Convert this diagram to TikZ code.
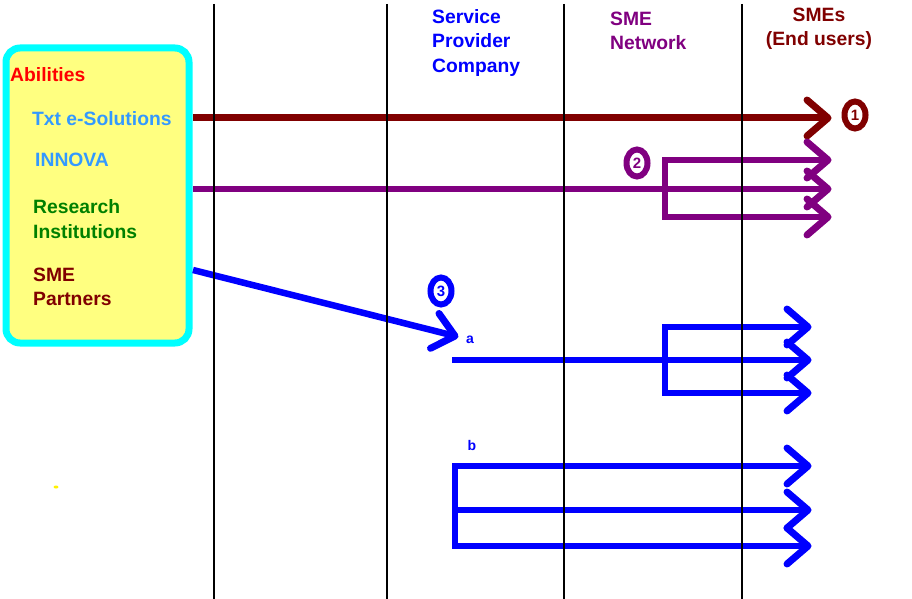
\documentclass[tikz,border=0pt]{standalone}
\usepackage{fontspec}
\setmainfont{Liberation Sans}
\usetikzlibrary{shapes.geometric}
\definecolor{dred}{RGB}{128,0,0}
\definecolor{purp}{RGB}{128,0,128}
\definecolor{bblue}{RGB}{0,0,255}
\definecolor{lblue}{RGB}{51,153,255}
\definecolor{dgreen}{RGB}{0,128,0}
\definecolor{lyellow}{RGB}{255,255,128}
\definecolor{cyanb}{RGB}{0,255,255}
\tikzset{
  flow/.style={line width=6.5pt},
  chevline/.style={line width=7pt,line cap=round,line join=round},
  lbl/.style={inner sep=0pt,anchor=west,align=left,font=\fontsize{19.3}{24.5}\selectfont\bfseries},
  badge/.style={ellipse,draw=#1,line width=6pt,fill=white,inner sep=0pt,minimum width=21pt,minimum height=27pt,text=#1,font=\fontsize{15}{15}\selectfont\bfseries},
  small/.style={inner sep=0pt,text=bblue,font=\fontsize{14}{14}\selectfont\bfseries},
  lane/.style={line width=1.5pt,black}
}
\newcommand\chevtip[2]{\draw[chevline,#1] ([shift={(-21,-18)}]#2) -- (#2) -- ([shift={(-21,18)}]#2);}
\begin{document}
\begin{tikzpicture}[x=1pt,y=-1pt]
\useasboundingbox (0,0) rectangle (912,599);
% abilities box
\draw[line width=7pt,draw=cyanb,fill=lyellow,rounded corners=14pt] (6,48) rectangle (189,343);
\node[lbl,text=red] (abil) at (10,75) {Abilities};
\node[lbl,text=lblue] (txt) at (32,119) {Txt e-Solutions};
\node[lbl,text=lblue] (innova) at (35,160) {INNOVA};
\node[lbl,text=dgreen] (research) at (33,219) {Research\\Institutions};
\node[lbl,text=dred] (smep) at (33,287) {SME\\Partners};
% column headings
\node[lbl,text=bblue] (spc) at (432,43) {Service\\Provider\\Company};
\node[lbl,text=purp] (smen) at (610,31) {SME\\Network};
\node[inner sep=0pt,align=center,text=dred,font=\fontsize{19.3}{24.5}\selectfont\bfseries] (smes) at (819,29) {SMEs\\(End users)};
% coordinates
\coordinate (s1) at (193,118); \coordinate (e1) at (828,118);
\coordinate (s2) at (193,189); \coordinate (e2) at (828,189);
\coordinate (e2t) at (828,160); \coordinate (e2b) at (828,217); \coordinate (k2) at (665,217);
\coordinate (s3) at (193,270); \coordinate (e3) at (455,336);
\coordinate (sa) at (452,360); \coordinate (ea) at (808,360);
\coordinate (eat) at (808,327); \coordinate (eab) at (808,393); \coordinate (ka) at (665,393);
\coordinate (ebt) at (808,466); \coordinate (ebm) at (808,510); \coordinate (ebb) at (808,546);
\coordinate (kb) at (455,546); \coordinate (sbm) at (455,510);
% arrows
\draw[flow,dred,line width=7pt] (s1) -- (e1);
\chevtip{dred}{e1}
\draw[flow,purp] (s2) -- (e2);
\draw[flow,purp] (e2t) -| (k2) -- (e2b);
\chevtip{purp}{e2t}\chevtip{purp}{e2}\chevtip{purp}{e2b}
\draw[flow,bblue] (s3) -- (e3);
\draw[chevline,bblue] ([shift={(-16,-22.5)}]e3) -- (e3) -- ([shift={(-24.5,12.3)}]e3);
\draw[flow,bblue] (sa) -- (ea);
\draw[flow,bblue] (eat) -| (ka) -- (eab);
\chevtip{bblue}{eat}\chevtip{bblue}{ea}\chevtip{bblue}{eab}
\draw[flow,bblue] (ebt) -| (kb) -- (ebb);
\draw[flow,bblue] (sbm) -- (ebm);
\chevtip{bblue}{ebt}\chevtip{bblue}{ebm}\chevtip{bblue}{ebb}
% lanes
\foreach \x/\n in {214/l1,387/l2,564/l3,742/l4}{
  \coordinate (\n t) at (\x,4); \coordinate (\n b) at (\x,599);
  \draw[lane] (\n t) -- (\n b);
}
% badges and small labels
\node[badge=dred] (b1) at (855,115) {1};
\node[badge=purp] (b2) at (637,163) {2};
\node[badge=bblue] (b3) at (441,291) {3};
\node[small] (la) at (470,340) {a};
\node[small] (lb) at (472,445) {b};
\node[ellipse,fill=yellow,inner sep=0pt,minimum width=5pt,minimum height=3pt] (dot) at (56,487) {};
\end{tikzpicture}
\end{document}
